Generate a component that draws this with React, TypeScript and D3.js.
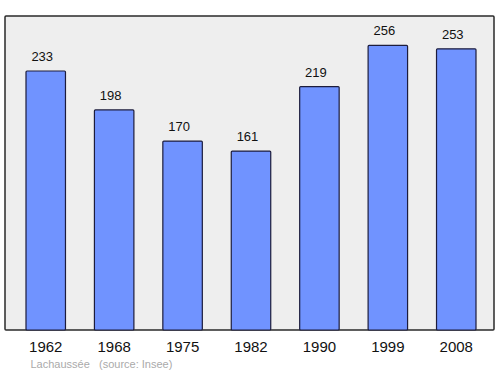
import React from "react";
import * as d3 from "d3";

const years = ["1962", "1968", "1975", "1982", "1990", "1999", "2008"];
const population = [233, 198, 170, 161, 219, 256, 253];
const title = "Lachaussée";
const source = "(source: Insee)";

export default function App() {
  const W = 500, H = 374;
  const frame = { x: 5, y: 16, w: 489, h: 314 };
  const x = d3.scaleBand<string>().domain(years).range([26, 476]).paddingInner(0.423).paddingOuter(0);
  const y = d3.scaleLinear().domain([0, 281.6]).range([frame.y + frame.h, frame.y + 1]);
  const font = "'Liberation Sans', Arial, sans-serif";
  return (
    <svg width={W} height={H} style={{ position: "absolute", left: 0, top: 0, background: "#fff" }} fontFamily={font}>
      <rect x={frame.x} y={frame.y} width={frame.w} height={frame.h} fill="#eeeeee" stroke="#2a2a2a" strokeWidth={1.5} rx={1} />
      {years.map((yr, i) => {
        const v = population[i];
        const bx = x(yr)!;
        const bw = x.bandwidth();
        return (
          <g key={yr}>
            <rect x={bx} y={y(v)} width={bw} height={y(0) - y(v)} fill="#7093ff" stroke="#1c1c3c" strokeWidth={1.2} rx={1} />
            <text x={bx + bw / 2 - 3.5} y={y(v) - 10} textAnchor="middle" fontSize={13} fill="#111">{v}</text>
            <text x={bx + bw / 2} y={352} textAnchor="middle" fontSize={15} fill="#111">{yr}</text>
          </g>
        );
      })}
      <text x={30.5} y={368} fontSize={11} fill="#aaaaaa">{title}</text>
      <text x={99} y={368} fontSize={11} fill="#aaaaaa">{source}</text>
    </svg>
  );
}
